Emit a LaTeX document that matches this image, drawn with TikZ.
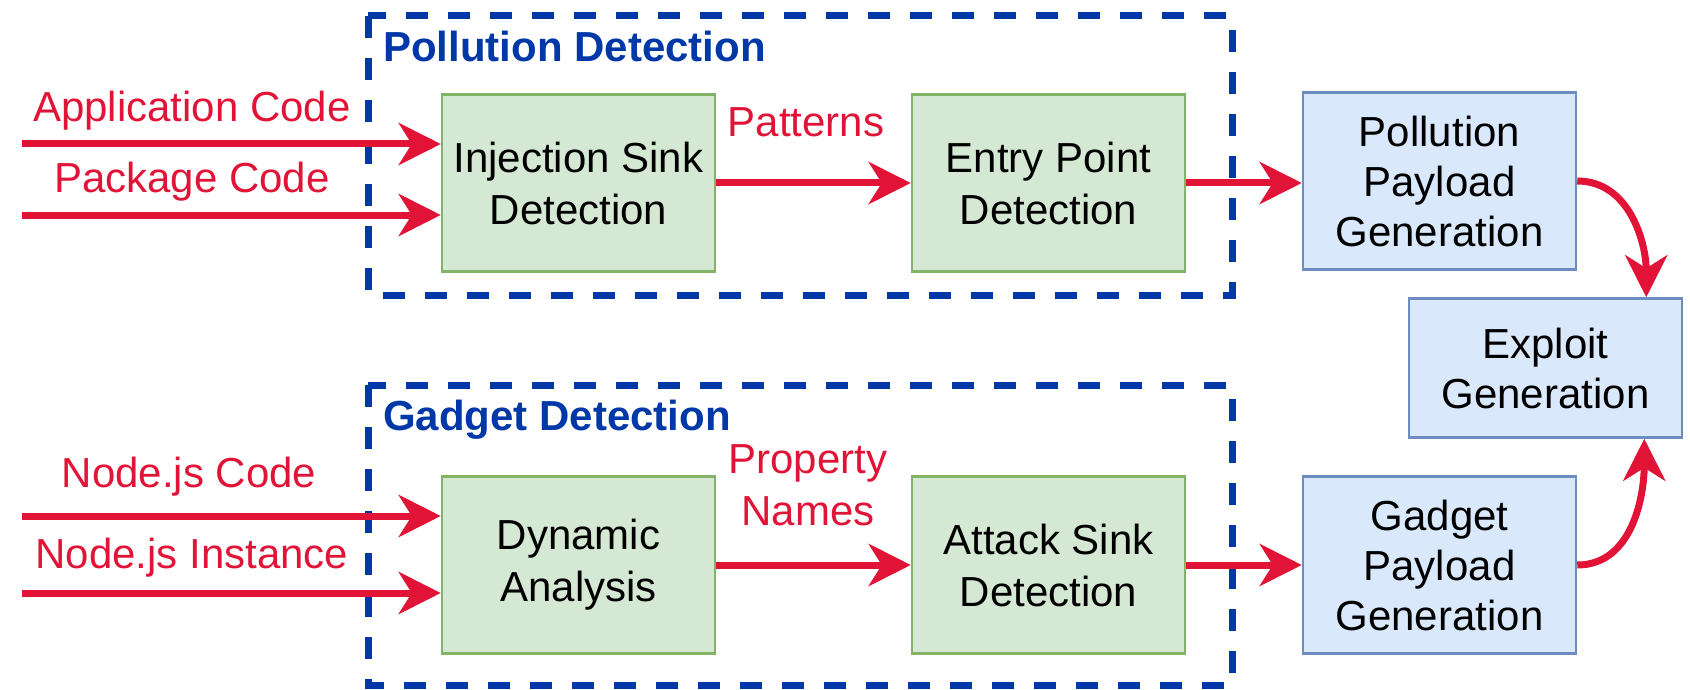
\documentclass[tikz,border=0pt]{standalone}
\usepackage{fontspec}
\setmainfont{Liberation Sans}
\usetikzlibrary{arrows.meta}
\definecolor{flowred}{RGB}{225,20,55}
\definecolor{grpblue}{RGB}{0,56,168}
\definecolor{greenfill}{HTML}{D5E8D4}
\definecolor{greenline}{HTML}{82B366}
\definecolor{bluefill}{HTML}{DAE8FC}
\definecolor{blueline}{HTML}{6C8EBF}
\tikzset{
  stagebox/.style={draw=greenline, fill=greenfill, line width=2.5pt, minimum width=273pt, minimum height=177pt, inner sep=0pt, align=center, font=\fontsize{42}{52}\selectfont},
  genbox/.style={draw=blueline, fill=bluefill, line width=2.5pt, minimum width=273pt, minimum height=177pt, inner sep=0pt, align=center, font=\fontsize{42}{50}\selectfont},
  flow/.style={draw=flowred, line width=7pt, -{Stealth[length=42pt,width=42pt,inset=13pt]}},
  flowlabel/.style={text=flowred, inner sep=0pt, anchor=base, font=\fontsize{42}{52}\selectfont},
  group/.style={draw=grpblue, line width=7pt, dash pattern=on 22pt off 20pt},
  grouptitle/.style={text=grpblue, inner sep=0pt, anchor=base west, font=\fontsize{42}{50}\selectfont\bfseries},
}
\begin{document}
\begin{tikzpicture}[x=1pt,y=-1pt]
\useasboundingbox (0,0) rectangle (1690,690);
% groups
\draw[group] (368,16) rectangle (1232,295);
\draw[group] (368,385) rectangle (1232,685);
\node[grouptitle] (pdt) at (383,62) {Pollution Detection};
\node[grouptitle] (gdt) at (383,430) {Gadget Detection};
% boxes
\node[stagebox] (inj) at (578.5,183) {Injection Sink\\Detection};
\node[stagebox] (entry) at (1048.5,183) {Entry Point\\Detection};
\node[genbox] (ppg) at (1439.5,181) {Pollution\\Payload\\Generation};
\node[genbox, minimum height=139pt] (exploit) at (1545.5,368) {Exploit\\Generation};
\node[stagebox] (dyn) at (578.5,565) {Dynamic\\Analysis};
\node[stagebox] (attack) at (1048.5,565) {Attack Sink\\Detection};
\node[genbox] (gpg) at (1439.5,565) {Gadget\\Payload\\Generation};
% inputs
\coordinate (in1) at (22,144);
\coordinate (in2) at (22,215);
\coordinate (in3) at (22,516);
\coordinate (in4) at (22,593);
\draw[flow] (in1) -- (in1 -| inj.west);
\draw[flow] (in2) -- (in2 -| inj.west);
\draw[flow] (in3) -- (in3 -| dyn.west);
\draw[flow] (in4) -- (in4 -| dyn.west);
\node[flowlabel] (l1) at (192,122) {Application Code};
\node[flowlabel] (l2) at (192,193) {Package Code};
\node[flowlabel] (l3) at (189,487) {Node.js Code};
\node[flowlabel] (l4) at (192,568) {Node.js Instance};
% internal flows
\draw[flow] (inj) -- (entry);
\draw[flow] (entry) -- (entry -| ppg.west);
\draw[flow] (dyn) -- (attack);
\draw[flow] (attack) -- (gpg);
\node[flowlabel] (pat) at (806,137) {Patterns};
\node[flowlabel] (pn1) at (808,473) {Property};
\node[flowlabel] (pn2) at (808,525) {Names};
% to exploit
\draw[flow] (ppg.east) to[out=0,in=90] ([xshift=-37pt]exploit.north east);
\draw[flow] (gpg.east) to[out=0,in=-90] ([xshift=-39pt]exploit.south east);
\end{tikzpicture}
\end{document}
